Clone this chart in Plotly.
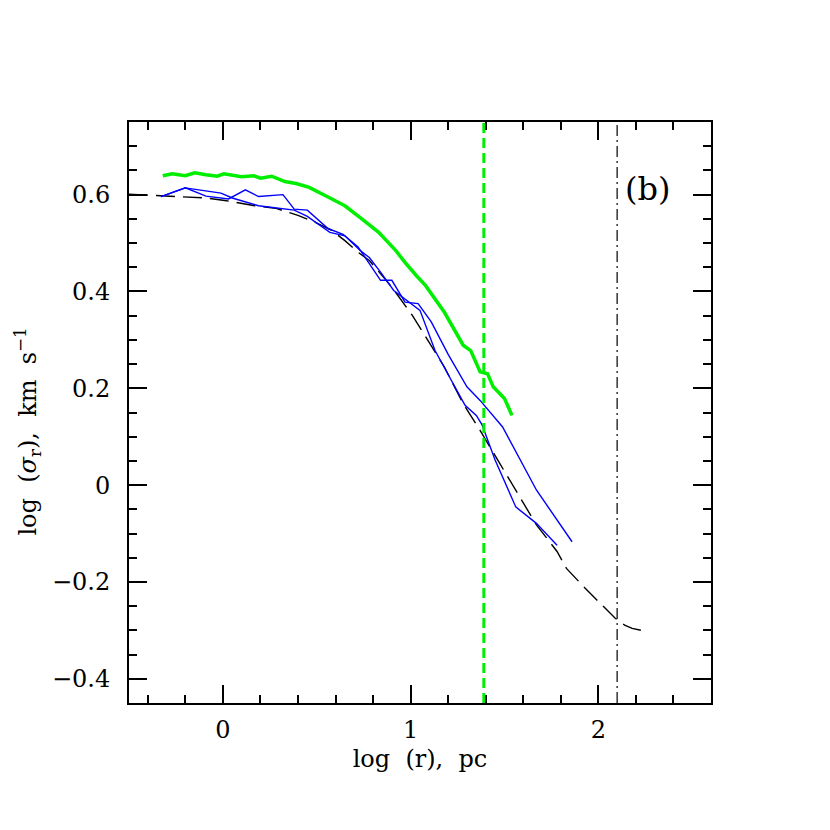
import plotly.graph_objects as go

# green (thick) profile
green_x = [-0.32, -0.27, -0.20, -0.15, -0.09, -0.03, 0.005, 0.10, 0.165, 0.20, 0.26, 0.33, 0.39,
           0.46, 0.56, 0.65, 0.74, 0.83, 0.92, 0.97, 1.03, 1.08, 1.18, 1.23, 1.28, 1.32, 1.37,
           1.41, 1.44, 1.50, 1.54]
green_y = [0.639, 0.643, 0.639, 0.645, 0.641, 0.638, 0.643, 0.637, 0.639, 0.634, 0.638, 0.627, 0.623,
           0.615, 0.595, 0.577, 0.550, 0.522, 0.485, 0.460, 0.433, 0.412, 0.357, 0.323, 0.289, 0.278, 0.234,
           0.230, 0.203, 0.179, 0.144]

# blue profiles
blue1_x = [-0.33, -0.20, -0.09, 0.03, 0.12, 0.19, 0.32, 0.38, 0.45, 0.56, 0.64, 0.72, 0.84, 0.90,
           0.97, 1.04, 1.11, 1.20, 1.30, 1.37, 1.49, 1.67, 1.86]
blue1_y = [0.596, 0.614, 0.597, 0.591, 0.610, 0.596, 0.600, 0.570, 0.568, 0.530, 0.518, 0.492, 0.423, 0.423,
           0.378, 0.375, 0.337, 0.270, 0.203, 0.175, 0.120, -0.010, -0.117]
blue2_x = [-0.33, -0.20, -0.01, 0.05, 0.19, 0.26, 0.38, 0.45, 0.57, 0.65, 0.73, 0.78, 0.84, 0.91,
           0.97, 1.05, 1.13, 1.29, 1.35, 1.38, 1.45, 1.56, 1.67, 1.78]
blue2_y = [0.596, 0.614, 0.603, 0.593, 0.577, 0.574, 0.568, 0.555, 0.522, 0.515, 0.485, 0.470, 0.440, 0.402,
           0.385, 0.361, 0.278, 0.165, 0.144, 0.125, 0.052, -0.045, -0.079, -0.124]

# black dashed model
model_x = [-0.5, -0.3, -0.2, -0.09, 0.01, 0.17, 0.28, 0.40, 0.49, 0.58, 0.65, 0.72, 0.78, 0.90, 1.01,
           1.08, 1.18, 1.28, 1.37, 1.47, 1.57, 1.67, 1.78, 1.83, 1.93, 2.03, 2.09, 2.14, 2.18, 2.23]
model_y = [0.601, 0.597, 0.595, 0.593, 0.588, 0.577, 0.572, 0.557, 0.543, 0.526, 0.505, 0.481, 0.464, 0.409, 0.350,
           0.306, 0.244, 0.168, 0.113, 0.048, -0.017, -0.082, -0.137, -0.172, -0.213, -0.251, -0.275, -0.289, -0.296, -0.300]

green_vline = 1.39
black_vline = 2.1

FONT = 'DejaVu Serif'
SP = '\u00a0'

fig = go.Figure()
fig.add_trace(go.Scatter(x=model_x, y=model_y, mode='lines',
                         line=dict(color='black', width=1.4, dash='19px,8px')))
fig.add_trace(go.Scatter(x=blue1_x, y=blue1_y, mode='lines', line=dict(color='#0000ff', width=1.4)))
fig.add_trace(go.Scatter(x=blue2_x, y=blue2_y, mode='lines', line=dict(color='#0000ff', width=1.4)))
fig.add_trace(go.Scatter(x=green_x, y=green_y, mode='lines', line=dict(color='#00ee00', width=3.5)))

fig.add_shape(type='line', x0=green_vline, x1=green_vline, y0=0, y1=1, xref='x', yref='paper',
              line=dict(color='#00ee00', width=3, dash='10px,5px'))
fig.add_shape(type='line', x0=black_vline, x1=black_vline, y0=0, y1=1, xref='x', yref='paper',
              line=dict(color='black', width=1.2, dash='11px,4px,2px,4px'))

fig.add_annotation(x=2.26, y=0.612, text='(b)', showarrow=False,
                   font=dict(family=FONT, size=32, color='black'))

# y-axis title as a rotated annotation (sits a little below the axis centre in the reference)
fig.add_annotation(xref='paper', yref='y', x=-0.174, y=0.11, xanchor='center', yanchor='middle',
                   textangle=-90, showarrow=False,
                   text=f'log{SP*2}(<i>σ</i><sub>r</sub>),{SP*2}km{SP*2}s<sup>−1</sup>',
                   font=dict(family=FONT, size=24, color='black'))

axis_common = dict(showgrid=False, zeroline=False, showline=True, linecolor='black', linewidth=2,
                   mirror='ticks', ticks='inside', tickcolor='black', tickwidth=1.5, ticklen=18,
                   automargin=False, tickfont=dict(family=FONT, size=24, color='black'))
minor_common = dict(tick0=0, ticklen=8, ticks='inside', tickcolor='black', tickwidth=1.5)

fig.update_xaxes(range=[-0.5, 2.6], tick0=0, dtick=1,
                 minor=dict(dtick=0.2, **minor_common),
                 title=dict(text=f'log{SP*2}(r),{SP*2}pc', font=dict(family=FONT, size=24, color='black'),
                            standoff=7),
                 ticklabelstandoff=4, **axis_common)
fig.update_yaxes(range=[-0.45, 0.75], tick0=0, dtick=0.2,
                 minor=dict(dtick=0.05, **minor_common),
                 ticklabelstandoff=12, **axis_common)

fig.update_layout(width=830, height=830, showlegend=False,
                  margin=dict(l=121, r=127, t=114, b=135),
                  paper_bgcolor='white', plot_bgcolor='white')

fig.write_html("out.html")
